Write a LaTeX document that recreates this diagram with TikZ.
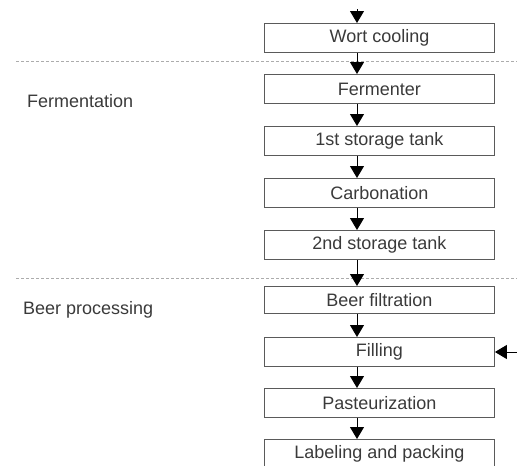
\documentclass[tikz,border=0pt]{standalone}
\usepackage{fontspec}
\setmainfont{Liberation Sans}
\usetikzlibrary{arrows.meta}
\definecolor{ink}{HTML}{3A3A3A}
\definecolor{frame}{HTML}{5A5A5A}
\tikzset{
  stepbox/.style={draw=frame, line width=0.9pt, minimum width=230pt, minimum height=29pt,
    inner sep=0pt, text=ink, font=\fontsize{18}{18}\selectfont, anchor=north west},
  flow/.style={-{Triangle[width=14pt,length=12pt]}, line width=1pt, draw=black},
  sep/.style={draw=gray!65, line width=0.8pt, dash pattern=on 3pt off 2pt},
  phase/.style={text=ink, font=\fontsize{18}{18}\selectfont, anchor=west, inner sep=0pt}
}
\begin{document}
\begin{tikzpicture}[x=1pt,y=-1pt]
\useasboundingbox (0,0) rectangle (517,466);
% process steps
\node[stepbox] (wort) at (264,23) {Wort cooling};
\node[stepbox] (ferm) at (264,74) {Fermenter};
\node[stepbox] (st1)  at (264,126) {1st storage tank};
\node[stepbox] (carb) at (264,178) {Carbonation};
\node[stepbox] (st2)  at (264,230) {2nd storage tank};
\node[stepbox, minimum height=27pt] (filt) at (264,286) {Beer filtration};
\node[stepbox] (fill) at (264,337) {Filling};
\node[stepbox] (past) at (264,388) {Pasteurization};
\node[stepbox] (lab)  at (264,439) {Labeling and packing};
% phase separators and labels
\draw[sep] (16,61) -- (517,61);
\draw[sep] (16,278) -- (517,278);
\node[phase] (fermlabel) at (27,101) {Fermentation};
\node[phase] (beerlabel) at (23,310) {Beer processing};
% connectors
\coordinate (top) at (357,9);
\coordinate (side) at (517,352);
\draw[flow] (top) -- (top |- wort.north);
\foreach \a/\b in {wort/ferm, ferm/st1, st1/carb, carb/st2, st2/filt, filt/fill, fill/past, past/lab}{
  \draw[flow] (top |- \a.south) -- (top |- \b.north);
}
\draw[flow] (side) -- (side -| fill.east);
\end{tikzpicture}
\end{document}
